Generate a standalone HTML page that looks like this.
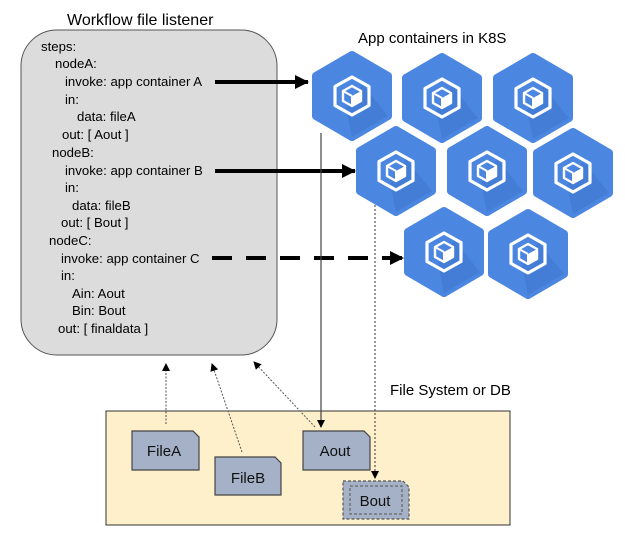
<!DOCTYPE html>
<html><head><meta charset="utf-8"><style>
html,body{margin:0;padding:0;background:#fff;}
svg{display:block;font-family:"Liberation Sans",sans-serif;}
</style></head><body>
<svg width="625" height="542" viewBox="0 0 625 542" xmlns="http://www.w3.org/2000/svg">
<defs>
<g id="hex">
  <polygon points="0,-41 36,-20 36,20 0,41 -36,20 -36,-20" fill="#4b87e1" stroke="#4b87e1" stroke-width="8" stroke-linejoin="round"/>
  <polygon points="10,-12 36,20 0,41 -6,12" fill="#3f77cf" opacity="0.6"/>
  <polygon points="0,-19 17,-9.5 17,9.5 0,19 -17,9.5 -17,-9.5" fill="none" stroke="#fff" stroke-width="3.2" stroke-linejoin="round"/>
  <polygon points="0,-10 9,-5 9,5 0,10 -9,5 -9,-5" fill="none" stroke="#fff" stroke-width="2.4" stroke-linejoin="round"/>
  <polygon points="0,0 9,-5 9,5 0,10" fill="#fff"/>
  <line x1="0" y1="0" x2="-9" y2="-5" stroke="#fff" stroke-width="2"/>
  <line x1="0" y1="0" x2="0" y2="10" stroke="#fff" stroke-width="2"/>
</g>
<marker id="ah" markerWidth="8" markerHeight="8" refX="7" refY="4" orient="auto" markerUnits="userSpaceOnUse"><path d="M0,0 L8,4 L0,8 z" fill="#000"/></marker>
<marker id="big" markerWidth="14" markerHeight="14" refX="13" refY="7" orient="auto" markerUnits="userSpaceOnUse"><path d="M0,0 L14,7 L0,14 z" fill="#000"/></marker>
</defs>

<text x="67" y="25" font-size="16" fill="#000">Workflow file listener</text>
<text x="358" y="43" font-size="15" fill="#000">App containers in K8S</text>

<rect x="21" y="30" width="256" height="325" rx="36" ry="36" fill="#dcdcdc" stroke="#555" stroke-width="1"/>
<g font-size="13.2" fill="#000">
<text x="41" y="51">steps:</text>
<text x="55" y="68">nodeA:</text>
<text x="65" y="86">invoke: app container A</text>
<text x="65" y="104">in:</text>
<text x="77" y="121">data: fileA</text>
<text x="62" y="139">out: [ Aout ]</text>
<text x="52" y="157">nodeB:</text>
<text x="65" y="175">invoke: app container B</text>
<text x="65" y="192">in:</text>
<text x="72" y="210">data: fileB</text>
<text x="61" y="227">out: [ Bout ]</text>
<text x="49" y="245">nodeC:</text>
<text x="61" y="263">invoke: app container C</text>
<text x="61" y="280">in:</text>
<text x="72" y="298">Ain: Aout</text>
<text x="72" y="315">Bin: Bout</text>
<text x="58" y="333">out: [ finaldata ]</text>
</g>

<use href="#hex" x="352" y="96"/>
<use href="#hex" x="442" y="98"/>
<use href="#hex" x="533" y="98"/>
<use href="#hex" x="396" y="171"/>
<use href="#hex" x="487" y="171"/>
<use href="#hex" x="573" y="173"/>
<use href="#hex" x="444" y="252"/>
<use href="#hex" x="528" y="254"/>

<line x1="215" y1="82" x2="308" y2="82" stroke="#000" stroke-width="4" marker-end="url(#big)"/>
<line x1="215" y1="171" x2="355" y2="171" stroke="#000" stroke-width="4" marker-end="url(#big)"/>
<line x1="212" y1="258" x2="403" y2="258" stroke="#000" stroke-width="4" stroke-dasharray="20,14" marker-end="url(#big)"/>

<text x="390" y="395" font-size="15" fill="#000">File System or DB</text>
<rect x="106" y="411" width="404" height="114" fill="#fdf0cb" stroke="#333" stroke-width="1"/>

<line x1="321" y1="133" x2="321" y2="427" stroke="#444" stroke-width="1.2" marker-end="url(#ah)"/>
<line x1="375" y1="205" x2="375" y2="478" stroke="#555" stroke-width="1.2" stroke-dasharray="2,2" marker-end="url(#ah)"/>

<line x1="166" y1="424" x2="166" y2="364" stroke="#555" stroke-width="1" stroke-dasharray="2,1.5" marker-end="url(#ah)"/>
<line x1="242" y1="452" x2="212" y2="364" stroke="#555" stroke-width="1" stroke-dasharray="2,1.5" marker-end="url(#ah)"/>
<line x1="315" y1="427" x2="254" y2="362" stroke="#555" stroke-width="1" stroke-dasharray="2,1.5" marker-end="url(#ah)"/>

<g font-size="15" fill="#111" text-anchor="middle">
<path d="M132,431 H193 L199,437 V470 H132 Z" fill="#a4b1c6" stroke="#444" stroke-width="1.2"/>
<text x="164" y="456">FileA</text>
<path d="M215,457 H275 L281,463 V495 H215 Z" fill="#a4b1c6" stroke="#444" stroke-width="1.2"/>
<text x="248" y="483">FileB</text>
<path d="M303,431 H364 L370,437 V470 H303 Z" fill="#a4b1c6" stroke="#444" stroke-width="1.2"/>
<text x="335" y="456">Aout</text>
<path d="M343,481 H403 L409,487 V519 H343 Z" fill="#a4b1c6" stroke="#555" stroke-width="1.2" stroke-dasharray="3,2"/>
<rect x="350" y="486" width="52" height="28" fill="none" stroke="#555" stroke-width="1" stroke-dasharray="3,2"/>
<text x="375" y="506">Bout</text>
</g>
</svg>
</body></html>
